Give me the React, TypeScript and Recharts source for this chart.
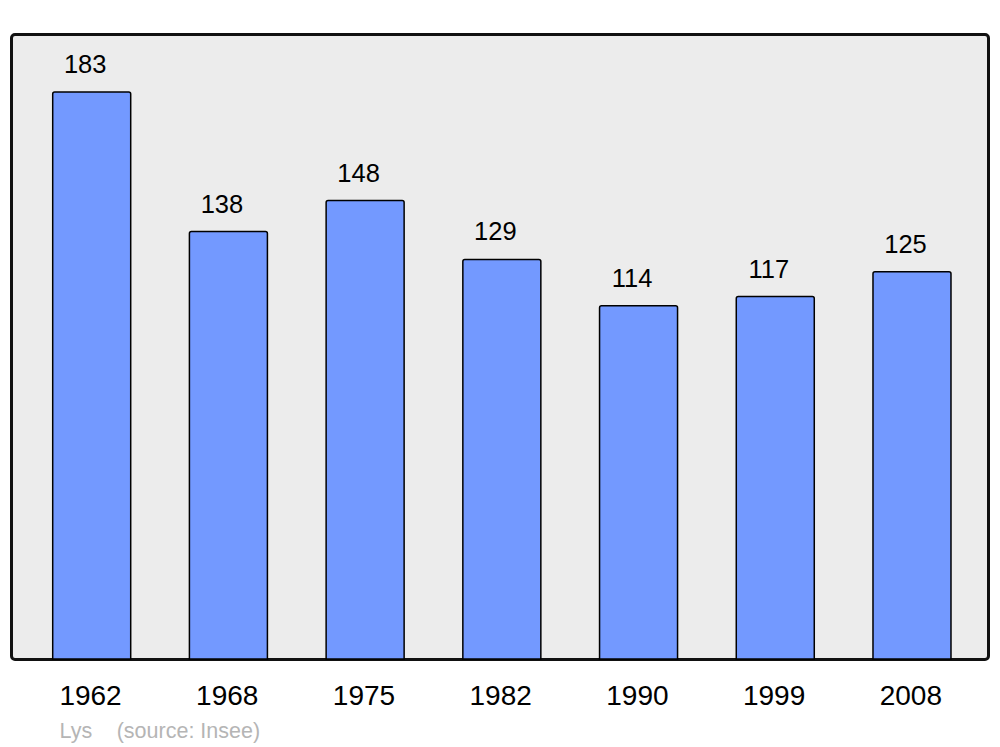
import { BarChart, Bar, XAxis, YAxis, LabelList } from 'recharts';

const years = ['1962', '1968', '1975', '1982', '1990', '1999', '2008'];
const population = [183, 138, 148, 129, 114, 117, 125];
const commune = 'Lys';
const sourceNote = '(source: Insee)';

const data = years.map((year, i) => ({ year, population: population[i] }));

const font = '"Liberation Sans", Arial, sans-serif';

// Year labels under the frame
const YearTick = ({ x, y, payload }: any) => (
  <text x={x - 1.5} y={y + 46} textAnchor="middle" fontSize={28} fontFamily={font} fill="#000">
    {payload.value}
  </text>
);

const footerStyle = {
  position: 'absolute' as const,
  top: 713,
  fontSize: 21.5,
  lineHeight: '21.5px',
  fontFamily: font,
  color: '#b5b5b5',
  whiteSpace: 'nowrap' as const,
};

export default function App() {
  return (
    <div style={{ position: 'relative', width: 992, height: 739 }}>
      {/* grey frame behind the plot */}
      <div
        style={{
          position: 'absolute',
          left: 2,
          top: 25,
          width: 980,
          height: 628,
          boxSizing: 'border-box',
          border: '3px solid #111',
          borderRadius: 5,
          background: '#ececec',
        }}
      />
      <div style={{ position: 'absolute', left: 0, top: 0 }}>
        <BarChart
          width={992}
          height={739}
          data={data}
          margin={{ top: 26.5, right: 11.5, left: 3.5, bottom: 28 }}
        >
          <XAxis
            dataKey="year"
            height={60}
            axisLine={false}
            tickLine={false}
            tickSize={0}
            tickMargin={0}
            padding={{ left: 12.2, right: 7.8 }}
            tick={<YearTick />}
            interval={0}
          />
          <YAxis hide domain={[0, 201.6]} />
          <Bar
            dataKey="population"
            barSize={78}
            fill="#7399ff"
            stroke="#000"
            strokeWidth={1.5}
            radius={[2, 2, 0, 0]}
            isAnimationActive={false}
          >
            <LabelList
              dataKey="population"
              position="top"
              offset={19}
              dx={-6.5}
              fontSize={25.5}
              fontFamily={font}
              fill="#000"
            />
          </Bar>
        </BarChart>
      </div>
      <div style={{ ...footerStyle, left: 51.5 }}>{commune}</div>
      <div style={{ ...footerStyle, left: 108.7 }}>{sourceNote}</div>
    </div>
  );
}
